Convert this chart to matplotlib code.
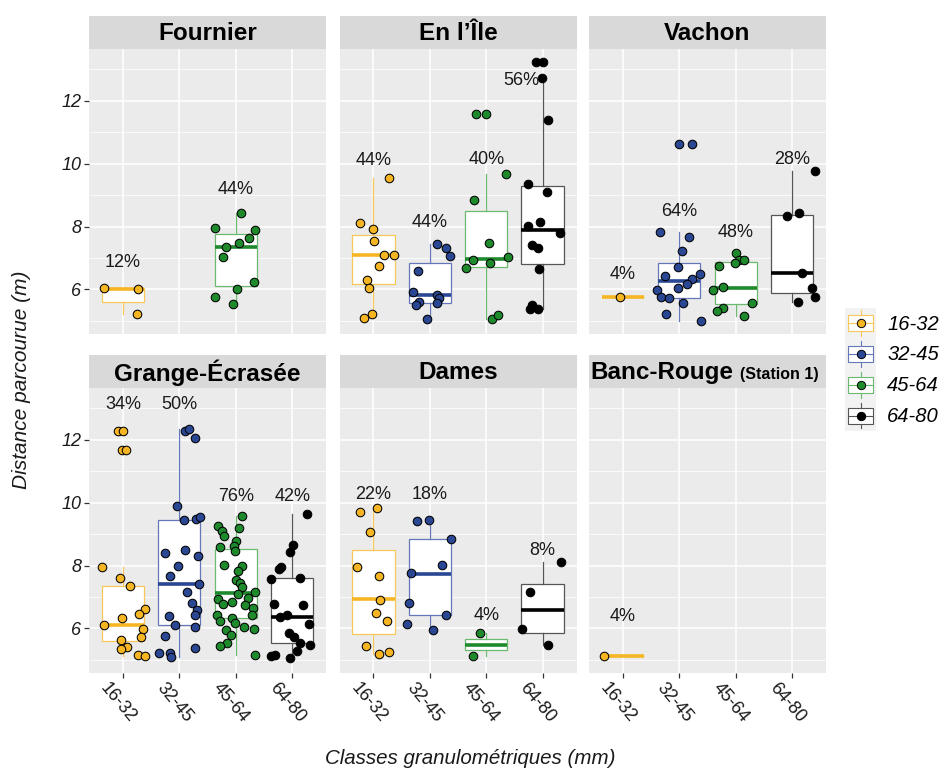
"""
Distance parcourue par classe granulométrique, 6 sites (facettes 2 x 3).
"""
import matplotlib
matplotlib.use("Agg")
import matplotlib.pyplot as plt
from matplotlib.legend_handler import HandlerBase
from matplotlib.lines import Line2D
from matplotlib.patches import Rectangle
from matplotlib.transforms import ScaledTranslation

plt.rcParams["font.family"] = ["Liberation Sans", "DejaVu Sans"]

classes = ["16-32", "32-45", "45-64", "64-80"]

# points : (décalage jitter, distance en m)
fournier_pts = {
    "16-32": [(-0.34, 6.03), (0.26, 6.00), (0.25, 5.22)],
    "45-64": [(0.10, 8.42), (-0.36, 7.96), (0.35, 7.90), (0.23, 7.63), (0.06, 7.49),
              (-0.17, 7.34), (-0.23, 7.04), (0.32, 6.24), (0.03, 6.01), (-0.37, 5.76),
              (-0.05, 5.55)],
}
enile_pts = {
    "16-32": [(0.28, 9.53), (-0.24, 8.11), (0.00, 7.93), (0.01, 7.53), (0.18, 7.08),
              (0.37, 7.08), (0.10, 6.73), (-0.11, 6.30), (-0.08, 6.04), (-0.02, 5.21),
              (-0.16, 5.09)],
    "32-45": [(0.12, 7.46), (0.28, 7.32), (0.35, 7.07), (-0.21, 6.60), (-0.30, 5.93),
              (0.12, 5.81), (0.17, 5.74), (-0.19, 5.60), (-0.24, 5.50), (0.12, 5.58),
              (-0.05, 5.05)],
    "45-64": [(-0.18, 11.59), (-0.01, 11.59), (0.35, 9.68), (-0.22, 8.86), (0.05, 7.47),
              (0.39, 7.03), (-0.23, 6.93), (0.07, 6.85), (-0.36, 6.68), (0.11, 5.07),
              (0.21, 5.17)],
    "64-80": [(-0.11, 13.24), (0.00, 13.24), (-0.01, 12.72), (0.09, 11.39), (-0.26, 9.34),
              (0.08, 9.11), (-0.26, 8.03), (-0.04, 8.14), (0.31, 7.81), (-0.18, 7.41),
              (-0.09, 7.32), (-0.07, 6.64), (-0.18, 5.50), (-0.23, 5.37), (-0.08, 5.37)],
}
vachon_pts = {
    "16-32": [(-0.05, 5.76)],
    "32-45": [(0.00, 10.63), (0.22, 10.63), (-0.34, 7.82), (0.17, 7.68), (0.05, 7.22),
              (-0.03, 6.70), (-0.25, 6.41), (0.36, 6.48), (0.23, 6.33), (0.14, 6.16),
              (-0.02, 6.03), (-0.39, 5.99), (-0.33, 5.76), (-0.18, 5.71), (0.07, 5.56),
              (-0.23, 5.22), (0.39, 4.99)],
    "45-64": [(0.00, 7.15), (0.05, 6.92), (0.15, 6.92), (-0.01, 6.84), (-0.30, 6.73),
              (-0.23, 6.06), (-0.40, 5.98), (0.28, 5.58), (-0.23, 5.40), (-0.34, 5.30),
              (0.14, 5.14)],
    "64-80": [(0.40, 9.76), (-0.10, 8.35), (0.12, 8.42), (0.17, 6.53), (0.36, 6.04),
              (0.40, 5.76), (0.11, 5.61)],
}
grange_pts = {
    "16-32": [(-0.08, 12.28), (0.01, 12.28), (-0.01, 11.67), (0.05, 11.67), (-0.37, 7.95),
              (-0.05, 7.60), (0.12, 7.36), (0.39, 6.63), (0.29, 6.47), (-0.01, 6.34),
              (-0.33, 6.10), (0.36, 5.99), (0.33, 5.72), (-0.04, 5.63), (0.08, 5.41),
              (-0.04, 5.33), (0.26, 5.15), (0.39, 5.12)],
    "32-45": [(0.11, 12.28), (0.17, 12.33), (0.28, 12.07), (-0.04, 9.90), (0.09, 9.45),
              (0.30, 9.48), (0.37, 9.53), (-0.25, 8.40), (0.11, 8.51), (0.34, 8.31),
              (-0.02, 7.97), (-0.17, 7.67), (0.35, 7.42), (0.14, 7.17), (0.23, 6.82),
              (0.31, 6.59), (0.28, 6.41), (-0.18, 6.38), (-0.07, 6.10), (0.27, 6.05),
              (-0.26, 5.76), (0.27, 5.39), (-0.36, 5.22), (-0.16, 5.22), (-0.15, 5.09)],
    "45-64": [(0.12, 9.58), (-0.31, 9.26), (0.05, 9.19), (-0.25, 9.09), (-0.20, 8.94),
              (0.01, 8.77), (-0.03, 8.63), (-0.27, 8.59), (-0.02, 8.46), (-0.21, 8.01),
              (0.12, 7.97), (0.04, 7.82), (0.00, 7.53), (0.08, 7.44), (0.12, 7.32),
              (0.04, 7.10), (0.34, 7.15), (0.21, 6.96), (-0.31, 6.92), (-0.23, 6.76),
              (0.16, 6.75), (0.30, 6.66), (-0.33, 6.41), (-0.28, 6.25), (-0.06, 6.34),
              (0.28, 6.41), (-0.01, 6.17), (0.14, 6.04), (0.32, 5.97), (-0.18, 5.94),
              (-0.09, 5.80), (-0.15, 5.54), (-0.28, 5.44), (0.34, 5.14), (-0.07, 6.84)],
    "64-80": [(0.27, 9.65), (0.02, 8.66), (-0.03, 8.43), (-0.19, 7.94), (-0.23, 7.90),
              (-0.37, 7.57), (0.14, 7.59), (-0.33, 6.76), (0.19, 6.73), (-0.09, 6.43),
              (-0.21, 6.36), (0.30, 6.13), (-0.05, 5.86), (0.03, 5.72), (0.14, 5.53),
              (0.31, 5.46), (0.08, 5.29), (-0.37, 5.11), (-0.30, 5.16), (-0.03, 5.07)],
}
dames_pts = {
    "16-32": [(0.06, 9.84), (-0.24, 9.69), (-0.06, 9.06), (-0.29, 7.95), (0.10, 7.67),
              (0.11, 6.91), (0.04, 6.49), (0.24, 6.22), (-0.13, 5.45), (0.28, 5.25),
              (0.10, 5.17)],
    "32-45": [(-0.22, 9.43), (-0.02, 9.45), (0.37, 8.85), (0.21, 8.02), (-0.33, 7.76),
              (-0.36, 6.80), (0.28, 6.43), (-0.40, 6.15), (0.05, 5.95)],
    "45-64": [(-0.11, 5.85), (-0.24, 5.12)],
    "64-80": [(0.33, 8.12), (-0.22, 7.17), (-0.36, 5.98), (0.09, 5.46)],
}
bancrouge_pts = {
    "16-32": [(-0.34, 5.11)],
}

# boîtes : (moustache basse, Q1, médiane, Q3, moustache haute)
fournier_box = {"16-32": (5.22, 5.60, 6.00, 6.03, 6.03), "45-64": (5.55, 6.12, 7.34, 7.77, 8.42)}
enile_box = {"16-32": (5.09, 6.16, 7.08, 7.72, 9.53), "32-45": (5.05, 5.58, 5.82, 6.84, 7.46),
             "45-64": (5.07, 6.70, 6.98, 8.51, 9.68), "64-80": (5.37, 6.82, 7.88, 9.28, 12.72)}
vachon_box = {"16-32": (5.76, 5.76, 5.76, 5.76, 5.76), "32-45": (4.99, 5.74, 6.26, 6.84, 7.82),
              "45-64": (5.14, 5.52, 6.05, 6.86, 7.15), "64-80": (5.61, 5.89, 6.53, 8.38, 9.76)}
grange_box = {"16-32": (5.12, 5.60, 6.10, 7.34, 7.95), "32-45": (5.09, 6.10, 7.42, 9.45, 12.33),
              "45-64": (5.14, 6.34, 7.12, 8.53, 9.58), "64-80": (5.07, 5.53, 6.36, 7.59, 9.65)}
dames_box = {"16-32": (5.17, 5.82, 6.92, 8.50, 9.84), "32-45": (5.95, 6.41, 7.74, 8.85, 9.45),
             "45-64": (5.12, 5.30, 5.48, 5.66, 5.85), "64-80": (5.46, 5.85, 6.58, 7.41, 8.12)}
bancrouge_box = {"16-32": (5.11, 5.11, 5.11, 5.11, 5.11)}

# pourcentages affichés au-dessus des boîtes
fournier_pct = {"16-32": 12, "45-64": 44}
enile_pct = {"16-32": 44, "32-45": 44, "45-64": 40, "64-80": 56}
vachon_pct = {"16-32": 4, "32-45": 64, "45-64": 48, "64-80": 28}
grange_pct = {"16-32": 34, "32-45": 50, "45-64": 76, "64-80": 42}
dames_pct = {"16-32": 22, "32-45": 18, "45-64": 4, "64-80": 8}
bancrouge_pct = {"16-32": 4}

# position (décalage x, y) des étiquettes de pourcentage
fournier_lab = {"16-32": (0, 6.86), "45-64": (0, 9.17)}
enile_lab = {"16-32": (0, 10.10), "32-45": (0, 8.12), "45-64": (0, 10.13), "64-80": (-0.38, 12.65)}
vachon_lab = {"16-32": (0, 6.47), "32-45": (0, 8.47), "45-64": (0, 7.80), "64-80": (0, 10.13)}
grange_lab = {"16-32": (0, 13.11), "32-45": (0, 13.11), "45-64": (0, 10.20), "64-80": (0, 10.20)}
dames_lab = {"16-32": (0, 10.25), "32-45": (0, 10.25), "45-64": (0, 6.41), "64-80": (0, 8.48)}
bancrouge_lab = {"16-32": (0, 6.39)}

sites = [
    ("Fournier", fournier_pts, fournier_box, fournier_pct, fournier_lab),
    ("En l\u2019\u00cele", enile_pts, enile_box, enile_pct, enile_lab),
    ("Vachon", vachon_pts, vachon_box, vachon_pct, vachon_lab),
    ("Grange-\u00c9cras\u00e9e", grange_pts, grange_box, grange_pct, grange_lab),
    ("Dames", dames_pts, dames_box, dames_pct, dames_lab),
    ("Banc-Rouge", bancrouge_pts, bancrouge_box, bancrouge_pct, bancrouge_lab),
]

fill_col = {"16-32": "#F6B623", "32-45": "#2A4794", "45-64": "#1E8A2C", "64-80": "#000000"}
edge_col = {"16-32": "#F8C85A", "32-45": "#6577B8", "45-64": "#6BBA6E", "64-80": "#555555"}

W, H = 940, 771
fig = plt.figure(figsize=(W / 100, H / 100), dpi=100)


def px_axes(x0, y0, w, h):
    return fig.add_axes([x0 / W, 1 - (y0 + h) / H, w / W, h / H])


col_left = [89, 339.5, 589]
row_top = [49, 388]
PW, PH, SH = 237, 285, 33
YLIM = (4.58, 13.65)


class BoxKey:
    def __init__(self, cls):
        self.cls = cls


class BoxKeyHandler(HandlerBase):
    def create_artists(self, legend, orig_handle, xdescent, ydescent,
                       width, height, fontsize, trans):
        cls = orig_handle.cls
        x0, y0 = -xdescent, -ydescent
        cx, cy = x0 + width / 2, y0 + height / 2
        bw, bh = width * 0.78, height * 0.52
        bg = Rectangle((x0, y0), width, height, facecolor="#F2F2F2",
                       edgecolor="none", transform=trans)
        w1 = Line2D([cx, cx], [y0 + height * 0.08, cy - bh / 2], color=edge_col[cls],
                    lw=0.8, transform=trans)
        w2 = Line2D([cx, cx], [cy + bh / 2, y0 + height * 0.92], color=edge_col[cls],
                    lw=0.8, transform=trans)
        box = Rectangle((cx - bw / 2, cy - bh / 2), bw, bh, facecolor="white",
                        edgecolor=edge_col[cls], lw=0.8, transform=trans)
        med = Line2D([cx - bw / 2, cx + bw / 2], [cy, cy], color=edge_col[cls],
                     lw=0.8, transform=trans)
        pt = Line2D([cx], [cy], marker="o", ms=6, mfc=fill_col[cls], mec="black",
                    mew=0.7, ls="none", transform=trans)
        return [bg, w1, w2, box, med, pt]


xshift = ScaledTranslation(-5 / 100, 0, fig.dpi_scale_trans)

for i, (name, pts, boxes, pcts, labs) in enumerate(sites):
    r, c = divmod(i, 3)
    ax = px_axes(col_left[c], row_top[r], PW, PH)
    ax.set_facecolor("#EBEBEB")
    for sp in ax.spines.values():
        sp.set_visible(False)
    ax.set_xlim(0.4, 4.6)
    ax.set_ylim(*YLIM)
    ax.set_xticks([1, 2, 3, 4])
    ax.set_yticks([6, 8, 10, 12])
    ax.set_yticks([5, 7, 9, 11, 13], minor=True)
    ax.set_axisbelow(True)
    ax.grid(which="major", color="white", lw=1.1)
    ax.grid(which="minor", axis="y", color="white", lw=0.55)
    ax.tick_params(which="minor", length=0)
    ax.tick_params(which="major", length=3.5, width=0.9, color="#333333", pad=2)

    if c == 0:
        ax.set_yticklabels(["6", "8", "10", "12"], fontsize=13, style="italic",
                           color="#1A1A1A")
    else:
        ax.tick_params(axis="y", length=0, labelleft=False)
    if r == 1:
        ax.tick_params(axis="x", pad=18)
        ax.set_xticklabels(classes, fontsize=13, color="#1A1A1A", rotation=-50,
                           ha="center", va="center", rotation_mode="anchor")
        for lab in ax.get_xticklabels():
            lab.set_transform(lab.get_transform() + xshift)
    else:
        ax.tick_params(axis="x", length=0, labelbottom=False)

    for k, cls in enumerate(classes):
        if cls not in boxes:
            continue
        lo, q1, med, q3, hi = boxes[cls]
        ax.bxp([{"whislo": lo, "q1": q1, "med": med, "q3": q3, "whishi": hi, "fliers": []}],
               positions=[k + 1], widths=0.75, patch_artist=True, showcaps=False,
               showfliers=False, manage_ticks=False,
               boxprops=dict(facecolor="white", edgecolor=edge_col[cls], lw=0.9),
               whiskerprops=dict(color=edge_col[cls], lw=0.9),
               medianprops=dict(color=fill_col[cls], lw=2.6, solid_capstyle="butt"))
        xs = [k + 1 + dx for dx, _ in pts[cls]]
        ys = [v for _, v in pts[cls]]
        ax.scatter(xs, ys, s=38, c=fill_col[cls], edgecolors="black", linewidths=0.75,
                   zorder=4)
        dx, ly = labs[cls]
        ax.text(k + 1 + dx, ly, f"{pcts[cls]}%", ha="center", va="center",
                fontsize=13, color="#1A1A1A", zorder=5)

    # bandeau du titre de facette
    sax = px_axes(col_left[c], row_top[r] - SH, PW, SH)
    sax.set_facecolor("#D9D9D9")
    sax.set_xticks([])
    sax.set_yticks([])
    for sp in sax.spines.values():
        sp.set_visible(False)
    if name == "Banc-Rouge":
        t = sax.text(0.006, 0.47, name, ha="left", va="center", fontsize=17.5,
                     fontweight="bold")
        sax.annotate("(Station 1)", xy=(1, 0), xycoords=t, xytext=(5, 1.5),
                     textcoords="offset points", ha="left", va="bottom",
                     fontsize=11.5, fontweight="bold")
    else:
        sax.text(0.5, 0.47, name, ha="center", va="center", fontsize=17.5,
                 fontweight="bold")

fig.text(22 / W, 1 - 380 / H, "Distance parcourue (m)", rotation=90, ha="center",
         va="center", fontsize=15, style="italic", color="#1A1A1A")
fig.text(470 / W, 1 - 758 / H, "Classes granulom\u00e9triques (mm)", ha="center",
         va="center", fontsize=14.8, style="italic", color="#1A1A1A")

fig.legend(handles=[BoxKey(cl) for cl in classes], labels=classes,
           handler_map={BoxKey: BoxKeyHandler()},
           loc="upper left", bbox_to_anchor=(845 / W, 1 - 308 / H),
           frameon=False, borderpad=0, borderaxespad=0, labelspacing=0,
           handlelength=1.55, handleheight=1.97, handletextpad=0.55,
           prop=dict(size=14.5, style="italic"))

fig.savefig("out.png", dpi=100)
